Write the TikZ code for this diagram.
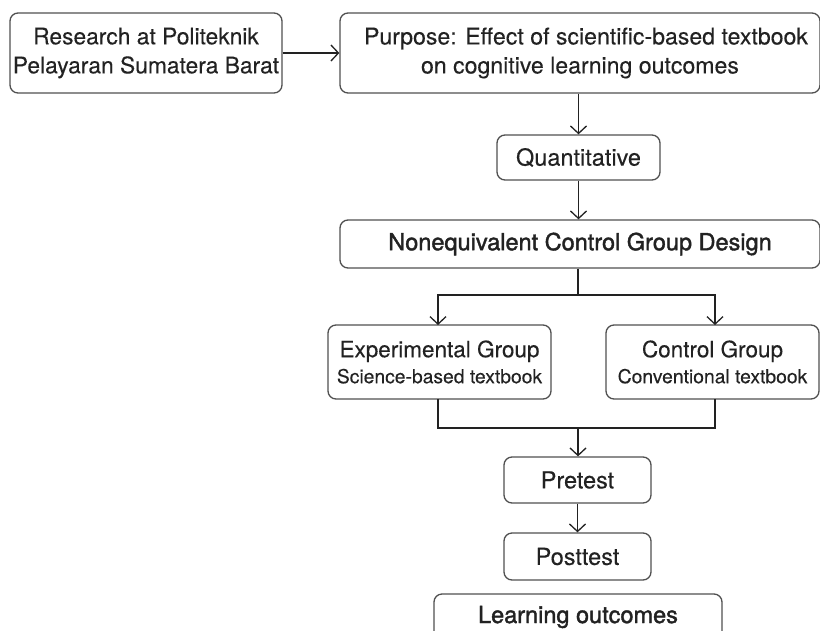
\documentclass[tikz,border=0pt]{standalone}
\usepackage{fontspec}
\setmainfont[FakeBold=0.2]{TeX Gyre Heros}
\newfontfamily\medfont[FakeBold=1.6]{TeX Gyre Heros}
\usetikzlibrary{arrows.meta}
\definecolor{ink}{HTML}{222222}
\definecolor{edge}{HTML}{505050}
\tikzset{
  box/.style={draw=edge, line width=1.3pt, rounded corners=8pt, text=ink, align=center, inner sep=0pt, font=\fontsize{23.5}{29}\selectfont},
  conn/.style={draw=ink, line width=1.3pt},
  arr/.style={conn, -{Straight Barb[length=7.5pt,width=16pt,line width=1.3pt]}},
}
\newcommand{\sub}[1]{{\fontsize{19.3}{24}\selectfont #1}}
\begin{document}
\begin{tikzpicture}[x=1pt,y=-1pt]
\useasboundingbox (0,0) rectangle (820,630);
\clip (0,0) rectangle (820,630);
\node[box, minimum width=272, minimum height=80, font=\fontsize{22.8}{29}\selectfont] (res) at (146,53) {Research at Politeknik\\Pelayaran Sumatera Barat};
\node[box, minimum width=480, minimum height=80, font=\fontsize{23.1}{29}\selectfont] (pur) at (580,53) {\hspace*{12pt}Purpose: Effect of scientific-based textbook\\on cognitive learning outcomes};
\node[box, minimum width=163, minimum height=45] (qua) at (578.5,157.5) {Quantitative};
\node[box, minimum width=480, minimum height=48, font=\medfont\fontsize{23.5}{29}\selectfont] (neq) at (580,244) {Nonequivalent Control Group Design};
\node[box, minimum width=223, minimum height=74, font=\fontsize{22.5}{28}\selectfont] (exp) at (439.5,362) {Experimental Group\\[-2pt]\sub{Science-based textbook}};
\node[box, minimum width=213, minimum height=74, font=\fontsize{22.5}{28}\selectfont] (ctl) at (712.5,362) {Control Group\\[-2pt]\sub{Conventional textbook}};
\node[box, minimum width=147, minimum height=46] (pre) at (577.5,480) {Pretest};
\node[box, minimum width=147, minimum height=47] (post) at (577.5,556.5) {Posttest};
\node[box, minimum width=288, minimum height=46, font=\medfont\fontsize{23.5}{29}\selectfont] (lo) at (578,617) {Learning outcomes};

\draw[arr] (res.east) -- (pur.west);
\draw[arr] (pur.south -| qua.north) -- (qua.north);
\draw[arr] (qua.south) -- (qua.south |- neq.north);
\coordinate (split) at (578,295);
\draw[conn] (neq.south -| split) -- (split);
\draw[arr] (split) -| (438,325) coordinate (expin);
\draw[arr] (split) -| (715,325) coordinate (ctlin);
\coordinate (join) at (578,428);
\draw[conn] (438,399) coordinate (expout) |- (join);
\draw[conn] (715,399) coordinate (ctlout) |- (join);
\draw[arr] (join) -- (join |- pre.north);
\draw[arr] (pre.south) -- (post.north);
\end{tikzpicture}
\end{document}
